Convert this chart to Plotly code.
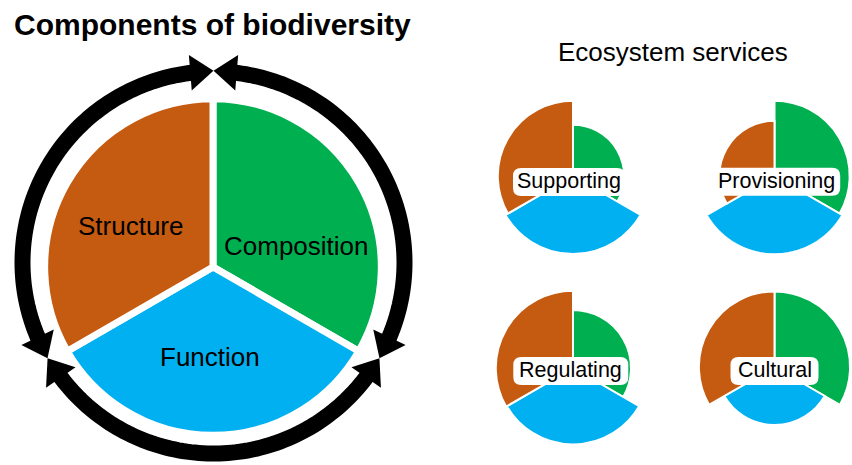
import numpy as np
import plotly.graph_objects as go

W, H = 852, 465
FONT = "Liberation Sans, Arial, sans-serif"

# ---- data ----
components = ["Composition", "Function", "Structure"]
colors = ["#00B050", "#00B0F0", "#C55A11"]
theta_centres = [60, 180, 300]          # clockwise from 12 o'clock
sector_width = [120, 120, 120]
main_values = [1, 1, 1]

services = ["Supporting", "Provisioning", "Regulating", "Cultural"]
supporting = [0.64, 0.975, 0.94]
provisioning = [0.94, 0.98, 0.69]
regulating = [0.725, 0.955, 0.965]
cultural = [0.945, 0.725, 0.945]
service_values = [supporting, provisioning, regulating, cultural]

cycle_tips = [0, 120, 240]               # where the cycle arrows meet
ring_r = 0.955

# ---- layout helpers ----
def dom(cx, cy, r):
    return dict(x=[max(0, (cx - r) / W), min(1, (cx + r) / W)],
                y=[max(0, 1 - (cy + r) / H), min(1, 1 - (cy - r) / H)])

def polar_layout(cx, cy, r, rmax):
    return dict(
        domain=dom(cx, cy, r),
        bgcolor="rgba(0,0,0,0)",
        bargap=0,
        radialaxis=dict(visible=False, range=[0, rmax], showgrid=False, showline=False),
        angularaxis=dict(visible=False, rotation=90, direction="clockwise",
                         showgrid=False, showline=False, ticks=""),
    )

fig = go.Figure()

# main pie
fig.add_trace(go.Barpolar(
    r=main_values, theta=theta_centres, width=sector_width,
    marker=dict(color=colors, line=dict(color="white", width=7)),
    subplot="polar", hoverinfo="skip", showlegend=False))

# cycle arrows
for k, t0 in enumerate(cycle_tips):
    t1 = t0 + 120
    th = np.linspace(t0 + 4.8, t1 - 4.8, 90)
    fig.add_trace(go.Scatterpolar(
        r=[ring_r] * len(th), theta=th, mode="lines",
        line=dict(color="black", width=16), subplot="polar2",
        hoverinfo="skip", showlegend=False))
    a0, a1 = t0 + 4.65, t1 - 4.65
    fig.add_trace(go.Scatterpolar(
        r=[ring_r, ring_r], theta=[a0, a1], mode="markers",
        marker=dict(symbol="triangle-up", size=31, color="black",
                    angle=[a0 - 90, a1 + 90], line=dict(width=0)),
        cliponaxis=False, subplot="polar2", hoverinfo="skip", showlegend=False))

# small service roses (80 px per unit)
small_centres = [(573, 176, 80), (774.5, 176, 77.5), (573, 368, 80), (774.5, 367, 77.5)]
for i, vals in enumerate(service_values):
    fig.add_trace(go.Barpolar(
        r=vals, theta=theta_centres, width=sector_width,
        marker=dict(color=colors, line=dict(color="white", width=2)),
        subplot=f"polar{i + 3}", hoverinfo="skip", showlegend=False))

layout = dict(
    width=W, height=H, margin=dict(l=0, r=0, t=0, b=0),
    paper_bgcolor="white", plot_bgcolor="white", showlegend=False,
    polar=polar_layout(213, 267, 170, 1.01),
    polar2=polar_layout(213.5, 262.5, 200, 1.0),
)
for i, (cx, cy, rr) in enumerate(small_centres):
    layout[f"polar{i + 3}"] = polar_layout(cx, cy, rr, rr / 80)
fig.update_layout(**layout)

# rounded label boxes
def rrect(a, b, r):
    return (f"M{-a + r},{-b} L{a - r},{-b} Q{a},{-b} {a},{-b + r} L{a},{b - r} "
            f"Q{a},{b} {a - r},{b} L{-a + r},{b} Q{-a},{b} {-a},{b - r} "
            f"L{-a},{-b + r} Q{-a},{-b} {-a + r},{-b} Z")

box_centres = [(569, 182), (776.7, 181.7), (570.8, 371), (774.5, 371)]
box_widths = [112, 127, 115, 88]
for (cx, cy), bw, name in zip(box_centres, box_widths, services):
    fig.add_shape(type="path", xref="paper", yref="paper",
                  xsizemode="pixel", ysizemode="pixel",
                  xanchor=cx / W, yanchor=1 - cy / H,
                  path=rrect(bw / 2, 14, 8), fillcolor="white", line=dict(width=0))
    fig.add_annotation(x=cx / W, y=1 - (cy - 1) / H, xref="paper", yref="paper",
                       text=name, showarrow=False, xanchor="center", yanchor="middle",
                       font=dict(family=FONT, size=21.5, color="black"))

# main labels
label_pos = [(296.5, 246), (209.7, 357), (131.2, 226.5)]
for (x, y), name in zip(label_pos, components):
    fig.add_annotation(x=x / W, y=1 - y / H, xref="paper", yref="paper",
                       text=name, showarrow=False, xanchor="center", yanchor="middle",
                       font=dict(family=FONT, size=26, color="black"))

fig.add_annotation(x=12 / W, y=1 - 25 / H, xref="paper", yref="paper",
                   text="<b>Components of biodiversity</b>", showarrow=False,
                   xanchor="left", yanchor="middle",
                   font=dict(family=FONT, size=30, color="black"))
fig.add_annotation(x=673.3 / W, y=1 - 52 / H, xref="paper", yref="paper",
                   text="Ecosystem services", showarrow=False,
                   xanchor="center", yanchor="middle",
                   font=dict(family=FONT, size=26, color="black"))

fig.write_html(
    "out.html",
    config={"displayModeBar": False},
    post_script="document.body.style.margin='0';document.body.style.padding='0';"
                "document.body.style.overflow='hidden';",
)
